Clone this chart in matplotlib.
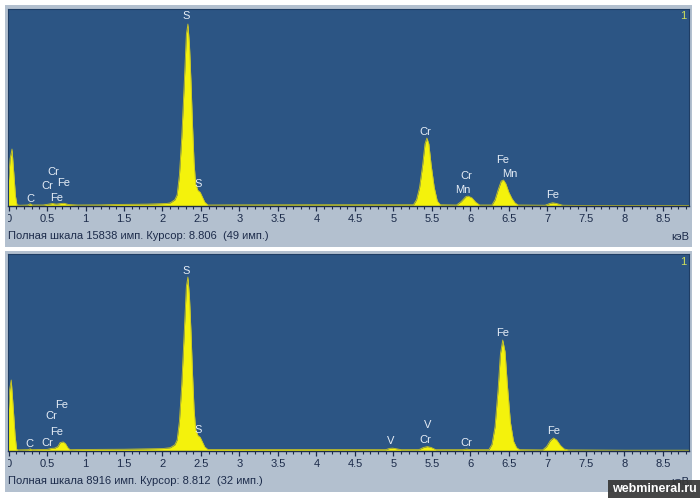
"""EDS spectra of two grains (S, Cr, Fe, Mn, V lines), redrawn from a screenshot."""

import matplotlib.pyplot as plt
from matplotlib.patches import Rectangle
from matplotlib.ticker import MultipleLocator
from matplotlib.transforms import Bbox, TransformedBbox

plt.rcParams["font.family"] = ["Liberation Sans", "DejaVu Sans"]

# ---- data (keV, counts) ----
top_energy = [
    -0.007, 0.02, 0.045, 0.07, 0.09, 0.11, 0.15, 0.25, 0.28, 0.31, 0.45, 0.52, 0.57,
    0.62, 0.68, 0.72, 0.78, 0.9, 1.2, 1.4, 1.5, 1.8, 2.05,
    2.10, 2.16, 2.19, 2.22, 2.25, 2.28, 2.31, 2.33, 2.35, 2.37, 2.39, 2.41, 2.43,
    2.46, 2.49, 2.52, 2.55, 2.59, 3.0, 4.0, 5.0, 5.26,
    5.30, 5.34, 5.38, 5.41, 5.435, 5.46, 5.49, 5.53, 5.57, 5.61, 5.82,
    5.88, 5.94, 5.97, 6.02, 6.07, 6.12, 6.28,
    6.32, 6.36, 6.40, 6.43, 6.46, 6.50, 6.54, 6.58, 6.62, 6.97,
    7.03, 7.07, 7.12, 7.20, 7.5, 8.0, 8.84,
]
top_counts = [
    1500, 3800, 4580, 2500, 800, 80, 60, 80, 180, 80, 80, 150, 200,
    150, 200, 220, 120, 80, 90, 120, 130, 150, 200,
    250, 500, 900, 2500, 5500, 9500, 13800, 14630, 13000, 10000, 6500, 3500, 1800,
    1250, 1100, 700, 300, 80, 90, 100, 100, 100,
    500, 1500, 3300, 5000, 5467, 5000, 3300, 1500, 400, 100, 80,
    350, 750, 800, 650, 300, 80, 80,
    500, 1300, 2000, 2090, 1800, 1100, 600, 250, 80, 60,
    200, 260, 200, 60, 40, 40, 40,
]
top_full_scale = 15838
top_status = "Полная шкала 15838 имп. Курсор: 8.806  (49 имп.)"
top_label_text = ["S", "S", "C", "Cr", "Cr", "Fe", "Fe", "Cr", "Cr", "Mn", "Fe", "Mn", "Fe"]
top_label_energy = [2.305, 2.46, 0.28, 0.58, 0.51, 0.71, 0.63, 5.41, 5.95, 5.90, 6.42, 6.51, 7.07]
top_label_counts = [15276, 1770, 563, 2734, 1608, 1849, 643, 5950, 2412, 1286, 3698, 2573, 884]

bottom_energy = [
    -0.007, 0.015, 0.035, 0.06, 0.085, 0.105, 0.12, 0.26, 0.28, 0.30, 0.50, 0.56,
    0.60, 0.64, 0.67, 0.71, 0.74, 0.77, 0.80, 1.0, 1.5, 2.0,
    2.10, 2.16, 2.19, 2.22, 2.25, 2.28, 2.31, 2.33, 2.35, 2.37, 2.39, 2.41, 2.43,
    2.46, 2.49, 2.52, 2.55, 2.59, 3.5, 4.90,
    4.95, 4.99, 5.04, 5.10, 5.33, 5.39, 5.44, 5.49, 5.55, 5.90, 5.95, 6.00,
    6.24, 6.28, 6.32, 6.36, 6.39, 6.42, 6.45, 6.48, 6.52, 6.56, 6.60, 6.64,
    6.94, 6.99, 7.04, 7.08, 7.12, 7.17, 7.22, 7.27, 8.0, 8.84,
]
bottom_counts = [
    1500, 2800, 3213, 2000, 700, 80, 50, 60, 100, 60, 70, 120,
    130, 200, 380, 410, 330, 150, 60, 70, 80, 110,
    150, 280, 500, 1350, 3000, 5200, 7450, 7875, 7000, 5400, 3500, 1900, 1000,
    700, 620, 400, 180, 70, 65, 60,
    120, 130, 100, 60, 60, 160, 200, 160, 60, 60, 90, 60,
    60, 300, 1100, 2800, 4400, 5024, 4500, 3000, 1300, 450, 150, 60,
    50, 200, 480, 590, 500, 250, 90, 50, 35, 35,
]
bottom_full_scale = 8916
bottom_status = "Полная шкала 8916 имп. Курсор: 8.812  (32 имп.)"
bottom_label_text = ["S", "S", "C", "Cr", "Fe", "Cr", "Fe", "V", "V", "Cr", "Cr", "Fe", "Fe"]
bottom_label_energy = [2.305, 2.46, 0.27, 0.50, 0.63, 0.56, 0.69, 4.97, 5.44, 5.42, 5.95, 6.42, 7.08]
bottom_label_counts = [8147, 950, 317, 362, 860, 1584, 2082, 453, 1177, 498, 362, 5341, 905]

tick_values = [0, 0.5, 1, 1.5, 2, 2.5, 3, 3.5, 4, 4.5, 5, 5.5, 6, 6.5, 7, 7.5, 8, 8.5]
tick_labels = ["0", "0.5", "1", "1.5", "2", "2.5", "3", "3.5", "4", "4.5",
               "5", "5.5", "6", "6.5", "7", "7.5", "8", "8.5"]
unit_label = "кэВ"
spectrum_number = "1"
watermark = "webmineral.ru"

W, H = 700, 498
PANEL_GREY = "#b3c0cf"
PLOT_BLUE = "#2c5584"
DARK = "#1c2b4a"
YELLOW = "#f4f20c"


def px_rect(left, top, right, bottom):
    return [left / W, 1 - bottom / H, (right - left) / W, (bottom - top) / H]


def draw_panel(fig, box, energy, counts, full_scale, labels, label_e, label_c):
    ax = fig.add_axes(px_rect(*box))
    ax.set_facecolor(PLOT_BLUE)
    ax.fill_between(energy, counts, 0, color=YELLOW, lw=0)
    ax.plot(energy, counts, color="#c9c424", lw=0.6)
    ax.set_xlim(-0.007, 8.84)
    ax.set_ylim(0, full_scale)
    for txt, e, c in zip(labels, label_e, label_c):
        ax.text(e, c, txt, ha="center", va="center", fontsize=8, color="#e6edf6")

    ax.set_xticks(tick_values)
    ax.set_xticklabels(tick_labels)
    ax.xaxis.set_minor_locator(MultipleLocator(0.1))
    ax.tick_params(axis="x", which="major", direction="out", length=3.5, width=0.9,
                   color=DARK, labelcolor=DARK, labelsize=8, pad=2.5)
    ax.tick_params(axis="x", which="minor", direction="out", length=2.5, width=0.8,
                   color=DARK)
    ax.set_yticks([])
    for side in ("top", "right", "left"):
        ax.spines[side].set_color("#1f3d64")
        ax.spines[side].set_linewidth(0.8)
    ax.spines["bottom"].set_color(DARK)
    ax.spines["bottom"].set_linewidth(1.0)

    # the "0" label is cut by the left edge of the plot frame
    clip = TransformedBbox(Bbox([[8 / W, 0], [1, 1]]), fig.transFigure)
    for lab in ax.get_xticklabels():
        lab.set_clip_box(clip)
        lab.set_clip_on(True)
    return ax


fig = plt.figure(figsize=(W / 100, H / 100), dpi=100)
fig.patch.set_facecolor("white")

for top, bottom in ((5, 247), (251, 492)):
    fig.patches.append(Rectangle((5 / W, 1 - bottom / H), 687 / W, (bottom - top) / H,
                                 transform=fig.transFigure, facecolor=PANEL_GREY,
                                 edgecolor="none", zorder=-10))

draw_panel(fig, (8, 9, 689, 206), top_energy, top_counts, top_full_scale,
           top_label_text, top_label_energy, top_label_counts)
draw_panel(fig, (8, 254, 689, 451), bottom_energy, bottom_counts, bottom_full_scale,
           bottom_label_text, bottom_label_energy, bottom_label_counts)

for y_status, y_num, status in ((236, 16, top_status), (481, 262, bottom_status)):
    fig.text(8 / W, 1 - y_status / H, status,
             ha="left", va="center", fontsize=8, color=DARK)
    fig.text(689 / W, 1 - (y_status + 1) / H, unit_label,
             ha="right", va="center", fontsize=8, color=DARK)
    fig.text(683 / W, 1 - y_num / H, spectrum_number,
             ha="center", va="center", fontsize=8, color="#cfe05c")

# site watermark in the bottom-right corner (hides most of the lower unit label)
fig.patches.append(Rectangle((608 / W, 0), 92 / W, 18 / H, transform=fig.transFigure,
                             facecolor="#363636", edgecolor="none", alpha=0.92, zorder=10))
fig.text(654 / W, 9 / H, watermark, ha="center", va="center", fontsize=9,
         fontweight="bold", color="white", zorder=11)

fig.savefig("out.png", dpi=100)
